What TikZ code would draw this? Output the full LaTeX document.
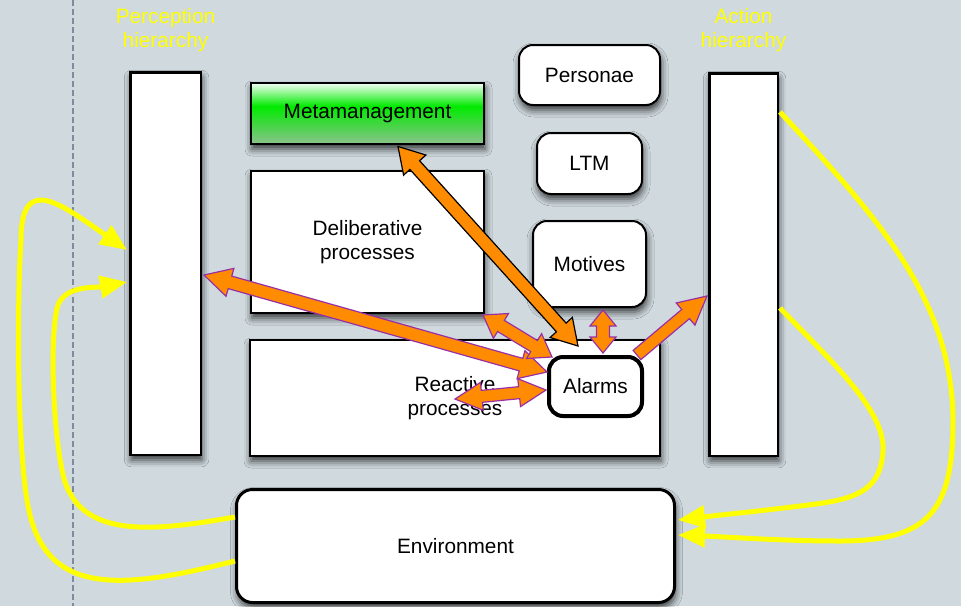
\documentclass[tikz,border=0pt]{standalone}
\usepackage{fontspec}
\setmainfont{Liberation Sans}
\usetikzlibrary{calc,arrows.meta,shadows.blur}

\definecolor{bgc}{HTML}{CFD9DE}
\definecolor{dashc}{HTML}{7F8A9E}
\definecolor{yel}{HTML}{FFFF00}
\definecolor{orng}{HTML}{FF8C00}
\definecolor{purp}{HTML}{9A2FA5}
\definecolor{mgTop}{HTML}{F4FFF4}
\definecolor{mgMid}{HTML}{00EA00}
\definecolor{mgBot}{HTML}{8CC28C}

% white on top, bright green just above the middle, grey-green at the bottom
\pgfdeclareverticalshading{metashade}{100bp}{color(0bp)=(mgBot); color(25bp)=(mgBot); color(56bp)=(mgMid); color(75bp)=(mgTop); color(100bp)=(mgTop)}

\newcommand\lbl{\fontsize{20.8}{24}\selectfont}

% block arrow with a head at both ends: [style]{from}{to}{half shaft}{half head}{head length}
\newcommand\twowayarrow[6][]{%
  \coordinate (hA) at ($(#2)!#6!(#3)$);
  \coordinate (hB) at ($(#3)!#6!(#2)$);
  \draw[flow,#1] (#2) -- ($(hA)!#5!90:(#3)$) -- ($(hA)!#4!90:(#3)$)
    -- ($(hB)!#4!-90:(#2)$) -- ($(hB)!#5!-90:(#2)$) -- (#3)
    -- ($(hB)!#5!90:(#2)$) -- ($(hB)!#4!90:(#2)$)
    -- ($(hA)!#4!-90:(#3)$) -- ($(hA)!#5!-90:(#3)$) -- cycle;}

% block arrow with a single head at the second point
\newcommand\onewayarrow[6][]{%
  \coordinate (hB) at ($(#3)!#6!(#2)$);
  \draw[flow,#1] ($(#2)!#4!90:(#3)$) -- ($(hB)!#4!-90:(#2)$)
    -- ($(hB)!#5!-90:(#2)$) -- (#3) -- ($(hB)!#5!90:(#2)$)
    -- ($(hB)!#4!90:(#2)$) -- ($(#2)!#4!-90:(#3)$) -- cycle;}

\tikzset{
  flow/.style={fill=orng, draw=purp, line width=1.2pt, line join=miter},
  plain/.style={draw=black, line width=2pt, fill=white, inner sep=0pt, align=center, font=\lbl},
  box/.style={plain, blur shadow={shadow xshift=1pt, shadow yshift=-5pt, shadow blur radius=7pt, shadow opacity=75}},
  rbox/.style={box, rounded corners=14pt},
  feed/.style={draw=yel, line width=5pt, -{Triangle[length=27pt,width=22pt]}},
  heading/.style={font=\lbl, text=yel, align=center, inner sep=0pt}
}

\begin{document}
\begin{tikzpicture}[x=1pt,y=-1pt]
  \path[use as bounding box, fill=bgc] (0,0) rectangle (961,606);

  % dashed margin line
  \coordinate (dtop) at (73,0);
  \coordinate (dbot) at (73,606);
  \draw[dashc, line width=1.3pt, dash pattern=on 6pt off 3pt] (dtop) -- (dbot);

  % headings
  \node[heading] (ptitle) at (165.5,30) {Perception\\hierarchy};
  \node[heading] (atitle) at (743.5,30) {Action\\hierarchy};

  % columns
  \node[box, line width=2.5pt, minimum width=70.5pt, minimum height=382.5pt] (perc) at (165.5,263.5) {};
  \node[box, line width=2.5pt, minimum width=68.5pt, minimum height=382.5pt] (act) at (743.5,264.5) {};

  % central layers
  \node[box, shading=metashade, minimum width=233pt, minimum height=61pt] (meta) at (367.5,113.5) {Metamanagement};
  \node[box, minimum width=233pt, minimum height=142pt] (delib) at (367.5,242) {Deliberative\\processes};
  \node[box, minimum width=410pt, minimum height=116pt] (react) at (455,398) {Reactive\\processes};

  \node[rbox, minimum width=141pt, minimum height=60pt] (pers) at (589.5,75) {Personae};
  \node[rbox, minimum width=105pt, minimum height=61pt] (ltm) at (589.5,163.5) {LTM};
  \node[rbox, minimum width=113pt, minimum height=86pt] (motv) at (589.5,264) {Motives};
  \node[plain, rounded corners=14pt, line width=4pt, minimum width=93pt, minimum height=59pt] (alarm) at (595.5,386.5) {Alarms};

  \node[rbox, line width=3pt, rounded corners=16pt, minimum width=438pt, minimum height=113pt] (env) at (455.5,546) {Environment};

  % end points of the feedback loops
  \coordinate (e1) at ($(env.west)+(0,15)$);
  \coordinate (e2) at ($(env.west)+(0,-29)$);
  \coordinate (pa) at ($(perc.west)+(-2,-13.5)$);
  \coordinate (pb) at ($(perc.west)+(-2,18.5)$);
  \coordinate (s1) at ($(act.east)+(1,-152.5)$);
  \coordinate (s2) at ($(act.east)+(1,43.5)$);
  \coordinate (ea) at ($(env.east)+(2,-11)$);
  \coordinate (eb) at ($(env.east)+(2,-26)$);

  % environment -> perception
  \draw[feed] (e1) .. controls (120,590) and (42,598) .. (27,500)
    .. controls (17,440) and (17,300) .. (21,240)
    .. controls (21,172) and (62,205) .. (pa);
  \draw[feed] (e2) .. controls (150,532) and (75,540) .. (62,470)
    .. controls (52,420) and (50,330) .. (58,305)
    .. controls (66,285) and (95,288) .. (pb);

  % action -> environment
  \draw[feed] (s1) .. controls (880,220) and (952,300) .. (953,420)
    .. controls (953,510) and (930,541) .. (840,541)
    .. controls (780,541) and (730,537) .. (ea);
  \draw[feed] (s2) .. controls (830,360) and (885,410) .. (883,450)
    .. controls (881,495) and (850,500) .. (800,506)
    .. controls (760,511) and (720,515) .. (eb);

  % end points of the alarm links
  \coordinate (m1) at ($(meta.south)+(30.5,1.5)$);
  \coordinate (m2) at ($(alarm.north)+(-17.5,-9)$);
  \coordinate (p1) at ($(perc.east)+(2,11.5)$);
  \coordinate (p2) at ($(alarm.west)+(0,-14.5)$);
  \coordinate (d1) at ($(delib.south east)+(-2,1)$);
  \coordinate (d2) at ($(alarm.north west)+(5,2)$);
  \coordinate (r1) at ($(react.center)+(0,1)$);
  \coordinate (r2) at ($(alarm.west)+(-1,3.5)$);
  \coordinate (v1) at ($(motv.south)+(13.5,2)$);
  \coordinate (v2) at ($(alarm.north)+(7.5,-2)$);
  \coordinate (a1) at ($(alarm.north east)+(-7,0)$);
  \coordinate (a2) at ($(act.west)+(-1,31.5)$);

  \twowayarrow{p1}{p2}{6.5pt}{14.5pt}{27pt}
  \twowayarrow{d1}{d2}{6.5pt}{14.5pt}{21pt}
  \twowayarrow{r1}{r2}{6pt}{14pt}{27pt}
  \twowayarrow{v1}{v2}{6.5pt}{13pt}{16pt}
  \onewayarrow{a1}{a2}{6pt}{14.5pt}{28pt}
  \twowayarrow[draw=black]{m1}{m2}{6.5pt}{15pt}{25pt}
\end{tikzpicture}
\end{document}
